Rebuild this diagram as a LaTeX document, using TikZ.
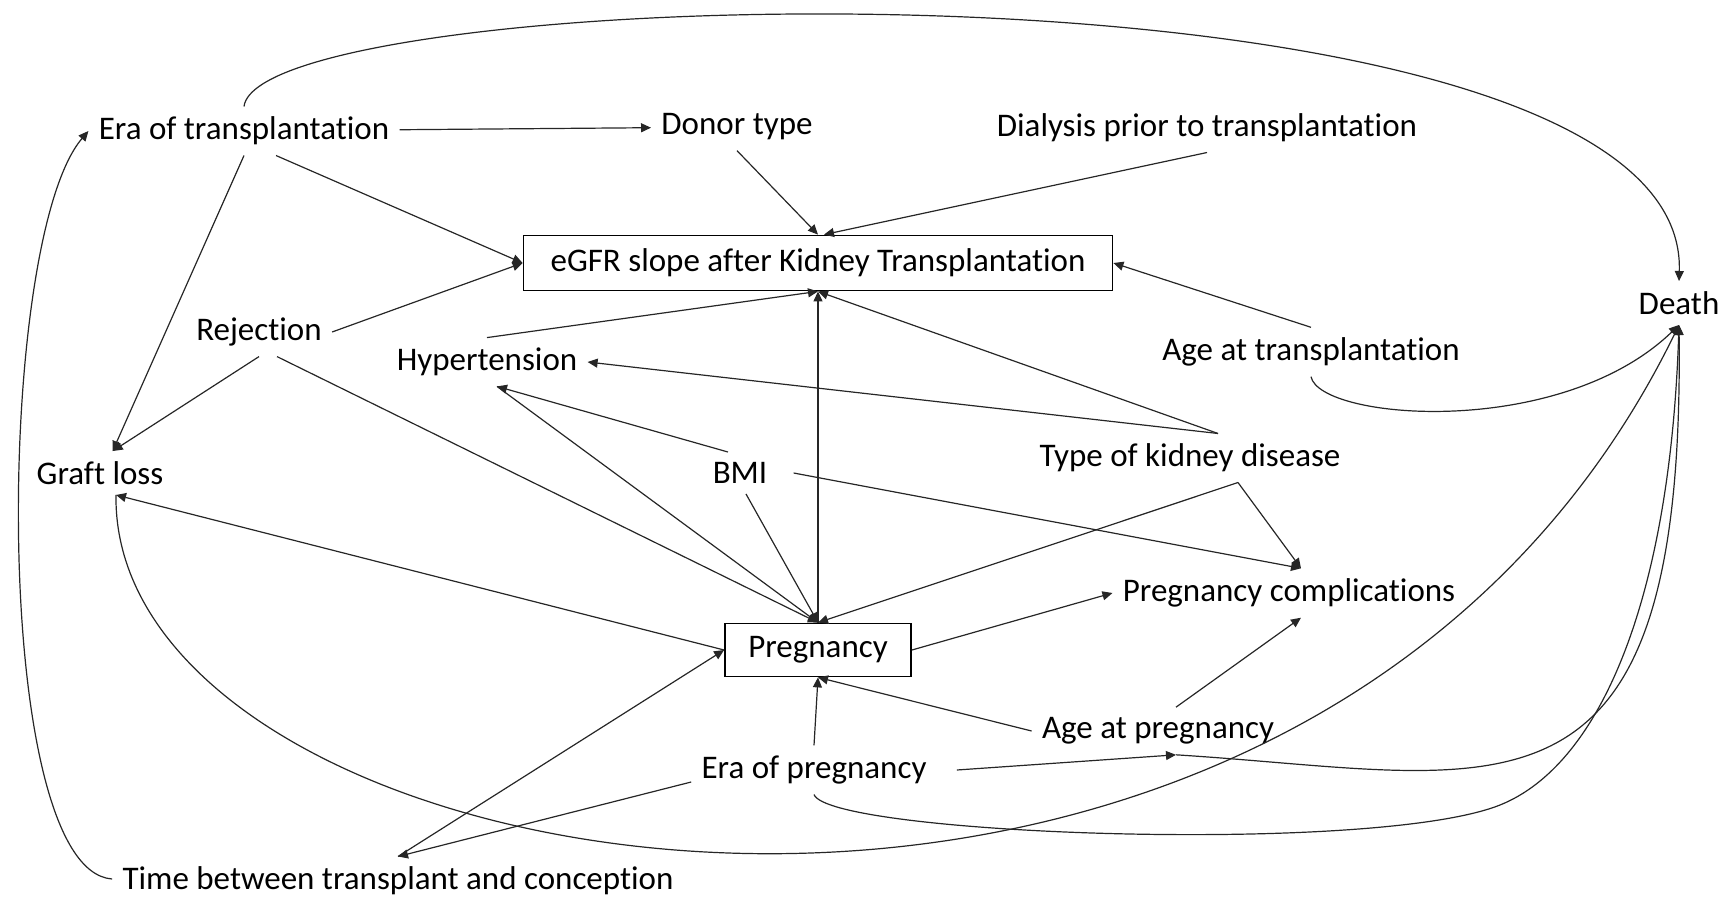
\documentclass[tikz,border=0pt]{standalone}
\usepackage{fontspec}
\setmainfont{Carlito}[Ligatures=NoCommon]
\usetikzlibrary{arrows.meta, positioning}
\tikzset{
    varnode/.style={
        font=\fontsize{16.5}{20}\selectfont,
        inner sep=5pt
    },
    keybox/.style={
        rectangle,
        draw=black,
        line width=0.9pt,
        font=\fontsize{16.5}{20}\selectfont,
        inner sep=0pt
    },
    causal/.style={
        draw=black!85,
        line width=0.6pt,
        -{Triangle[length=5pt,width=4.5pt]}
    }
}
\begin{document}
\begin{tikzpicture}[x=0.5pt, y=-0.5pt]
\useasboundingbox (0,0) rectangle (1736,900);

% Transplant-related variables
\node[varnode] (eratx) at (244,131) {Era of transplantation};
\node[varnode] (donor) at (737,127) {Donor type};
\node[varnode] (dialysis) at (1207,128) {Dialysis prior to transplantation};
\node[varnode] (rejection) at (259,332) {Rejection};
\node[varnode] (hyper) at (487,362) {Hypertension};
\node[varnode] (agetx) at (1311,352) {Age at transplantation};

% Outcome
\node[keybox, minimum width=294.5pt, minimum height=27.5pt] (egfr) at (818,263) {eGFR slope after Kidney Transplantation};
\node[varnode] (death) at (1679,303) {Death};
\node[varnode] (graft) at (100,473) {Graft loss};

% Patient variables
\node[varnode] (bmi) at (740,473) {BMI};
\node[varnode] (kidney) at (1190,458) {Type of kidney disease};

% Exposure
\node[keybox, minimum width=93pt, minimum height=26.5pt] (preg) at (818,650) {Pregnancy};
\node[varnode] (compl) at (1289,593) {Pregnancy complications};
\node[varnode] (agepreg) at (1158,731) {Age at pregnancy};
\node[varnode] (erapreg) at (814,770) {Era of pregnancy};
\node[varnode] (timebtw) at (398,881) {Time between transplant and conception};

% Era of transplantation
\draw[causal] (eratx) -- (donor);
\draw[causal] ([xshift=16pt]eratx.south) -- (egfr.west);
\draw[causal] (eratx.south) -- (graft.60);
\draw[causal] (eratx.north) .. controls (260,-20) and (1690,-60) .. (death.north);

% Donor type, dialysis
\draw[causal] (donor.south) -- (egfr.north);
\draw[causal] (dialysis.south) -- ([xshift=3pt]egfr.north);

% Rejection
\draw[causal] (rejection.east) -- (egfr.west);
\draw[causal] (rejection.south) -- (graft.60);
\draw[causal] ([xshift=9pt]rejection.south) -- (preg.north);

% Hypertension
\draw[causal] (hyper.north) -- (egfr.south);
\draw[causal] ([xshift=5pt]hyper.south) -- (preg.north);

% Type of kidney disease
\draw[causal] ([xshift=14pt]kidney.north) -- (hyper.east);
\draw[causal] ([xshift=14pt]kidney.north) -- (egfr.south);
\draw[causal] ([xshift=24pt]kidney.south) -- (preg.north);
\draw[causal] ([xshift=24pt]kidney.south) -- ([xshift=6pt]compl.north);

% BMI
\draw[causal] ([xshift=-6pt]bmi.north) -- ([xshift=5pt]hyper.south);
\draw[causal] ([xshift=3pt]bmi.south) -- (preg.north);
\draw[causal] ([xshift=8pt]bmi.east) -- ([xshift=6pt]compl.north);

% Pregnancy
\draw[causal] (preg) -- (egfr);
\draw[causal] (preg.east) -- (compl.west);
\draw[causal] (preg.west) -- ([xshift=8pt]graft.south);

% Time between transplant and conception
\draw[causal] ([yshift=1pt]timebtw.west) .. controls (-10,870) and (-5,240) .. (eratx.west);

\draw[causal] (timebtw.north) -- (preg.west);

% Era of pregnancy
\draw[causal] (erapreg.north) -- (preg.south);
\draw[causal] ([yshift=-6pt]erapreg.west) -- (timebtw.north);
\draw[causal] ([xshift=10pt]erapreg.east) -- ([xshift=9pt]agepreg.south);
\draw[causal] (erapreg.south) .. controls (830,835) and (1375,855) .. (1500,805)
    .. controls (1600,765) and (1670,600) .. (death.south);

% Age at pregnancy
\draw[causal] (agepreg.west) -- (preg.south);
\draw[causal] ([xshift=9pt]agepreg.north) -- ([xshift=6pt]compl.south);
\draw[causal] ([xshift=9pt]agepreg.south) .. controls (1500,775) and (1685,850) .. (death.south);

% Age at transplantation
\draw[causal] (agetx.north) -- (egfr.east);
\draw[causal] (agetx.south) .. controls (1320,420) and (1560,440) .. (death.south);

% Graft loss
\draw[causal] ([xshift=8pt]graft.south) .. controls (110,900) and (1300,1100) .. (death.south);

\end{tikzpicture}
\end{document}
